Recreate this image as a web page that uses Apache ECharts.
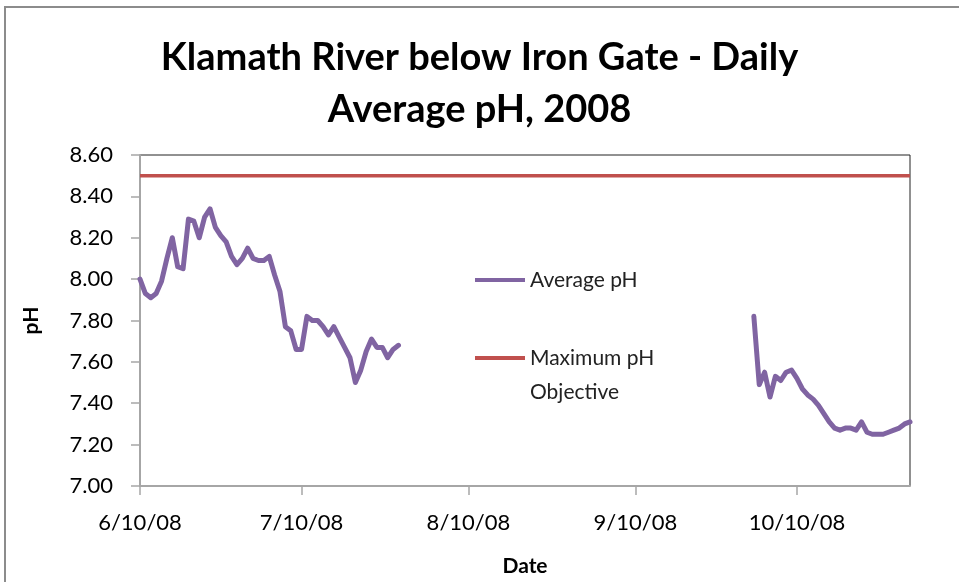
<!DOCTYPE html>
<html>
<head>
<meta charset="utf-8">
<script src="https://cdn.jsdelivr.net/npm/echarts@6/dist/echarts.min.js"></script>
<style>
  html, body { margin: 0; padding: 0; background: #fff; }
  #main { width: 959px; height: 582px; }
</style>
</head>
<body>
<div id="main"></div>
<script>
// daily average pH, first run starts 6/10/08
var start1 = '2008-06-10';
var ph1 = [8.00, 7.93, 7.91, 7.93, 7.99, 8.10, 8.20, 8.06, 8.05, 8.29,
           8.28, 8.20, 8.30, 8.34, 8.25, 8.21, 8.18, 8.11, 8.07, 8.10,
           8.15, 8.10, 8.09, 8.09, 8.11, 8.02, 7.94, 7.77, 7.75, 7.66,
           7.66, 7.82, 7.80, 7.80, 7.77, 7.73, 7.77, 7.72, 7.67, 7.62,
           7.50, 7.56, 7.65, 7.71, 7.67, 7.67, 7.62, 7.66, 7.68];
// second run starts 10/2/08
var start2 = '2008-10-02';
var ph2 = [7.82, 7.49, 7.55, 7.43, 7.53, 7.51, 7.55, 7.56, 7.52, 7.47,
           7.44, 7.42, 7.39, 7.35, 7.31, 7.28, 7.27, 7.28, 7.28, 7.27,
           7.31, 7.26, 7.25, 7.25, 7.25, 7.26, 7.27, 7.28, 7.30, 7.31];
var objective = 8.5;
var axisStart = '2008-06-10';
var axisEnd = '2008-10-31';
var tickDates = ['2008-06-10', '2008-07-10', '2008-08-10', '2008-09-10', '2008-10-10'];
var yTicks = [7.0, 7.2, 7.4, 7.6, 7.8, 8.0, 8.2, 8.4, 8.6];

var DAY = 86400000;
function ts(s) {
    var p = s.split('-');
    return Date.UTC(+p[0], +p[1] - 1, +p[2]);
}
function fmtDate(v) {
    var d = new Date(v);
    return (d.getUTCMonth() + 1) + '/' + d.getUTCDate() + '/' + String(d.getUTCFullYear()).slice(2);
}

var avgData = [];
ph1.forEach(function (v, i) { avgData.push([ts(start1) + i * DAY, v]); });
avgData.push([ts(start1) + ph1.length * DAY, null]); // gap in record
ph2.forEach(function (v, i) { avgData.push([ts(start2) + i * DAY, v]); });

var objData = [[ts(axisStart), objective], [ts(axisEnd), objective]];
var tickTs = tickDates.map(ts);

var font = 'Lato';
var myChart = echarts.init(document.getElementById('main'));

var option = {
    backgroundColor: '#fff',
    animation: false,
    title: {
        text: 'Klamath River below Iron Gate - Daily\nAverage pH, 2008',
        left: 'center',
        top: 32,
        padding: [0, 0, 0, 20],
        textStyle: {
            fontFamily: font,
            fontWeight: 'bold',
            fontSize: 38,
            lineHeight: 52,
            color: '#000'
        }
    },
    graphic: [{
        type: 'rect',
        shape: { x: 5, y: 7, width: 1000, height: 1000 },
        style: { fill: null, stroke: '#8c8c8c', lineWidth: 2 },
        silent: true
    }],
    legend: {
        orient: 'vertical',
        left: 475,
        top: 263,
        padding: 0,
        itemWidth: 50,
        itemHeight: 4,
        itemGap: 10,
        itemTextGap: 8,
        icon: 'rect',
        formatter: function (name) {
            // blank first line keeps the icon level with "Maximum pH"
            return name === 'Maximum pH Objective' ? ' \nMaximum pH\nObjective' : name;
        },
        textStyle: {
            fontFamily: font,
            fontSize: 21,
            lineHeight: 34,
            color: '#222'
        },
        data: ['Average pH', 'Maximum pH Objective']
    },
    grid: {
        left: 140,
        right: 49,
        top: 155,
        bottom: 95,
        show: true,
        borderColor: '#222',
        borderWidth: 1
    },
    xAxis: {
        type: 'value',
        min: ts(axisStart),
        max: ts(axisEnd),
        name: 'Date',
        nameLocation: 'middle',
        nameGap: 70,
        nameTextStyle: { fontFamily: font, fontWeight: 'bold', fontSize: 21, color: '#000' },
        axisLine: { show: true, lineStyle: { color: '#a6a6a6', width: 2 } },
        axisTick: { show: true, length: 9, customValues: tickTs, lineStyle: { color: '#a6a6a6', width: 1.5 } },
        axisLabel: {
            customValues: tickTs,
            formatter: fmtDate,
            margin: 26,
            fontFamily: font,
            fontSize: 22,
            color: '#000'
        },
        splitLine: { show: false }
    },
    yAxis: {
        type: 'value',
        min: yTicks[0],
        max: yTicks[yTicks.length - 1],
        interval: 0.2,
        name: 'pH',
        nameLocation: 'middle',
        nameGap: 98,
        nameTextStyle: { fontFamily: font, fontWeight: 'bold', fontSize: 21, color: '#000' },
        axisLine: { show: true, lineStyle: { color: '#a6a6a6', width: 2 } },
        axisTick: { show: true, length: 9, lineStyle: { color: '#a6a6a6', width: 1.5 } },
        axisLabel: {
            formatter: function (v) { return v.toFixed(2); },
            margin: 27,
            fontFamily: font,
            fontSize: 22,
            color: '#000'
        },
        splitLine: { show: false }
    },
    series: [
        {
            name: 'Average pH',
            type: 'line',
            data: avgData,
            showSymbol: false,
            symbol: 'none',
            connectNulls: false,
            color: '#8064A2',
            lineStyle: { width: 5, color: '#8064A2', join: 'round', cap: 'round' }
        },
        {
            name: 'Maximum pH Objective',
            type: 'line',
            data: objData,
            showSymbol: false,
            symbol: 'none',
            color: '#C0504D',
            lineStyle: { width: 3.5, color: '#C0504D' }
        }
    ]
};
myChart.setOption(option);
</script>
</body>
</html>
